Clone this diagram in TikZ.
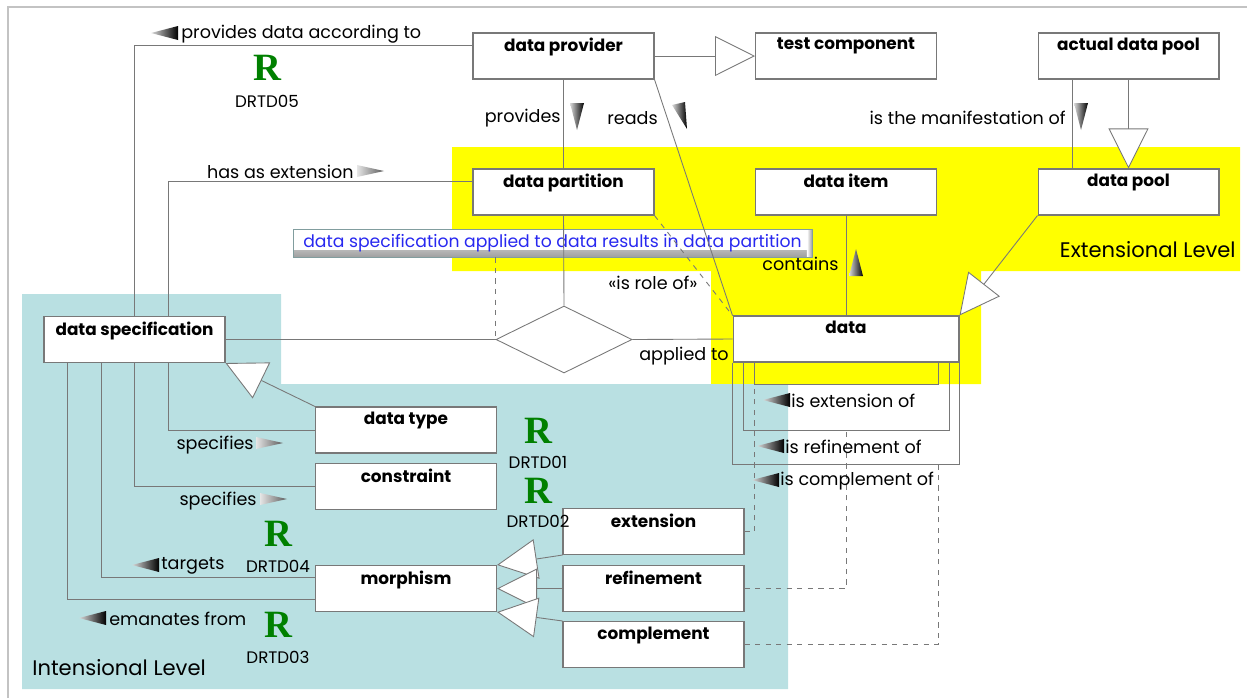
\documentclass[tikz,border=0pt]{standalone}
\usepackage{fontspec}
\setmainfont{Poppins}
\newfontfamily\reqfont{Liberation Serif}
\usetikzlibrary{arrows.meta}
\usetikzlibrary{shapes.geometric}
\usetikzlibrary{calc}

\begin{document}
\begin{tikzpicture}[x = 0.02cm, y = -0.02cm,
  line/.style = {draw = linegray, line width = 0.5pt},
  box/.style = {draw = linegray, fill = white, line width = 0.6pt, minimum width = 3.62cm, minimum height = 0.92cm, inner sep = 0pt},
  title/.style = {anchor = north, font = \fontsize{9.6}{11}\selectfont\bfseries, inner sep = 3pt},
  role/.style = {font = \fontsize{10}{12}\selectfont, inner sep = 0pt},
  inherit/.style = {line, -{Triangle[length = 0.8cm, width = 0.8cm, fill = white]}},
  req/.style = {font = \reqfont\bfseries\fontsize{22}{22}\selectfont, text = reqgreen, inner sep = 0pt, text height = 14.5pt, text depth = 0pt},
  reqid/.style = {font = \fontsize{9.5}{11}\selectfont, inner sep = 0pt},
  level/.style = {font = \fontsize{12}{14}\selectfont, inner sep = 0pt}]
\definecolor{linegray}{RGB}{120,120,120}
\definecolor{framegray}{RGB}{195,195,195}
\definecolor{extlevel}{RGB}{255,255,0}
\definecolor{intlevel}{RGB}{185,224,226}
\definecolor{reqgreen}{RGB}{0,128,0}
\definecolor{notetext}{RGB}{40,40,240}

\def\markleft(#1){\shade[left color = gray!30, right color = black] (#1) -- ++(27,-7) -- ++(0,14) -- cycle;}
\def\markright(#1){\shade[left color = gray!20, right color = gray!70!black] (#1) -- ++(-27,-6) -- ++(0,12) -- cycle;}
\def\markdown(#1){\shade[left color = gray!30, right color = black] (#1) -- ++(-7,-27) -- ++(14,0) -- cycle;}
\def\markup(#1){\shade[left color = gray!30, right color = black] (#1) -- ++(-7,27) -- ++(14,0) -- cycle;}

\useasboundingbox (0,0) rectangle (1247,698);
\draw[framegray, line width = 0.8pt] (8,698) -- (8,7) -- (1247,7);

% levels
\fill[extlevel] (452,147) -- (1240,147) -- (1240,271) -- (981,271) -- (981,384) -- (711,384) -- (711,271) -- (452,271) -- cycle;
\fill[intlevel] (22,294) -- (281,294) -- (281,384) -- (788,384) -- (788,689) -- (22,689) -- cycle;
\node[level, anchor = east] (extname) at (1236,250) {Extensional Level};
\node[level, anchor = west] (intname) at (32,668) {Intensional Level};

% classes
\node[box, label = {[title]north:data provider}] (provider) at (563.5,56) {};
\node[box, label = {[title]north:test component}] (testcomp) at (846,56) {};
\node[box, label = {[title]north:actual data pool}] (actualpool) at (1128.5,56) {};
\node[box, label = {[title]north:data partition}] (partition) at (563.5,192) {};
\node[box, label = {[title]north:data item}] (item) at (846,192) {};
\node[box, label = {[title]north:data pool}] (pool) at (1128.5,192) {};
\node[box, minimum width = 4.52cm, label = {[title]north:data}] (data) at (846,339) {};
\node[box, label = {[title]north:data specification}] (spec) at (134.5,339.5) {};
\node[box, label = {[title]north:data type}] (dtype) at (406,430) {};
\node[box, label = {[title]north:constraint}] (constraint) at (406,486.5) {};
\node[box, label = {[title]north:morphism}] (morphism) at (406,588.5) {};
\node[box, label = {[title]north:extension}] (extension) at (653.5,531.5) {};
\node[box, label = {[title]north:refinement}] (refinement) at (653.5,588.5) {};
\node[box, label = {[title]north:complement}] (complement) at (653.5,644.5) {};
\node[diamond, draw = linegray, fill = white, line width = 0.5pt, minimum width = 2.72cm, minimum height = 1.34cm, inner sep = 0pt] (assoc) at (564,339.5) {};

% association class note
\node[draw = intlevel!70!black, fill = white, minimum width = 10.38cm, minimum height = 0.56cm, inner sep = 0pt,
  font = \fontsize{9.8}{11}\selectfont, text = notetext,
  path picture = {\shade[top color = white, bottom color = gray!75] (path picture bounding box.south west) rectangle ([yshift = 0.14cm] path picture bounding box.south east);
    \shade[left color = white, right color = gray!75] ([xshift = -0.1cm] path picture bounding box.north east) rectangle (path picture bounding box.south east);}]
  (note) at (552.5,243) {data specification applied to data results in data partition};

% extensional level
\draw[line] ([yshift = 0.22cm] provider.west) -| (spec.north);
\draw[line] ([yshift = 0.22cm] partition.west) -| ([xshift = 0.67cm] spec.north);
\draw[inherit] (provider.east) -- (testcomp.west);
\draw[line] (provider.south) -- (partition.north);
\draw[line] (provider.south east) -- (data.north west);
\draw[line, dashed] (partition.south east) -- (data.north west);
\draw[line] ([xshift = -1.13cm] actualpool.south) -- ([xshift = -1.13cm] pool.north);
\draw[inherit] (actualpool.south) -- (pool.north);
\draw[inherit] (pool.south west) -- (data.north east);
\draw[line] (item.south) -- (data.north);
\draw[line] (partition.south) -- (assoc.north);
\draw[line] (spec.east) -- (assoc.west);
\draw[line] (assoc.east) -- (data.west);
\draw[line, dashed] (note.south -| assoc.west) -- (assoc.west);

% self associations of data
\draw[line] ([xshift = 0.44cm] data.south west) -- ++(0,22) -| ([xshift = -0.42cm] data.south east);
\draw[line] ([xshift = 0.22cm] data.south west) -- ++(0,68) -| ([xshift = -0.2cm] data.south east);
\draw[line] (data.south west) -- ++(0,102) -| (data.south east);
\draw[line, dashed] (extension.east) -| ([xshift = 0.44cm, yshift = -0.44cm] data.south west);
\draw[line, dashed] (refinement.east) -| ([yshift = -1.36cm] data.south);
\draw[line, dashed] (complement.east) -| ([xshift = -0.42cm, yshift = -2.04cm] data.south east);

% intensional level
\draw[line] (dtype.west) -| ([xshift = 0.67cm] spec.south);
\draw[line] (constraint.west) -| (spec.south);
\draw[line] ([yshift = 0.23cm] morphism.west) -| ([xshift = -0.67cm] spec.south);
\draw[line] ([yshift = -0.21cm] morphism.west) -| ([xshift = -1.35cm] spec.south);
\draw[inherit] (dtype.north west) -- (spec.south east);
\draw[inherit] (extension.south west) -- (morphism.north east);
\draw[inherit] (refinement.west) -- (morphism.east);
\draw[inherit] (complement.north west) -- (morphism.south east);

% role names
\node[role, anchor = west] (according) at (181,34) {provides data according to};
\node[role, anchor = east] (hasext) at (354,172) {has as extension};
\node[role, anchor = east] (provides) at (561,118) {provides};
\node[role, anchor = west] (reads) at (607,118) {reads};
\node[role, anchor = east] (manifest) at (1066,118) {is the manifestation of};
\node[role, anchor = east] (contains) at (839,264) {contains};
\node[role, anchor = west] (roleof) at (608,283) {«is role of»};
\node[role, anchor = east] (applied) at (729,356) {applied to};
\node[role, anchor = east] (specifies1) at (254,445) {specifies};
\node[role, anchor = east] (specifies2) at (257,501) {specifies};
\node[role, anchor = west] (targets) at (161,566) {targets};
\node[role, anchor = west] (emanates) at (109,619) {emanates from};
\node[role, anchor = west] (isext) at (791,401) {is extension of};
\node[role, anchor = west] (isref) at (785,447) {is refinement of};
\node[role, anchor = west] (iscompl) at (780,481) {is complement of};

\markleft(151,33)
\markright(384,171)
\markdown(577,130)
\shade[left color = gray!30, right color = black] (687,129) -- (672,105) -- (685,102) -- cycle;
\markdown(1081,130)
\markup(856,249)
\markright(283,443)
\markright(287,499)
\markleft(132,565)
\markleft(79,618)
\markleft(763,400)
\markleft(757,446)
\markleft(752,480)

% requirements
\foreach \x/\y/\id/\dy in {267/68/05/33, 538/431/01/31, 538/491/02/30, 278/534/04/32, 278/625/03/32} {
  \node[req] (r\id) at (\x,\y) {R};
  \node[reqid] (id\id) at (\x,\y+\dy) {DRTD\id};
}
\end{tikzpicture}
\end{document}
